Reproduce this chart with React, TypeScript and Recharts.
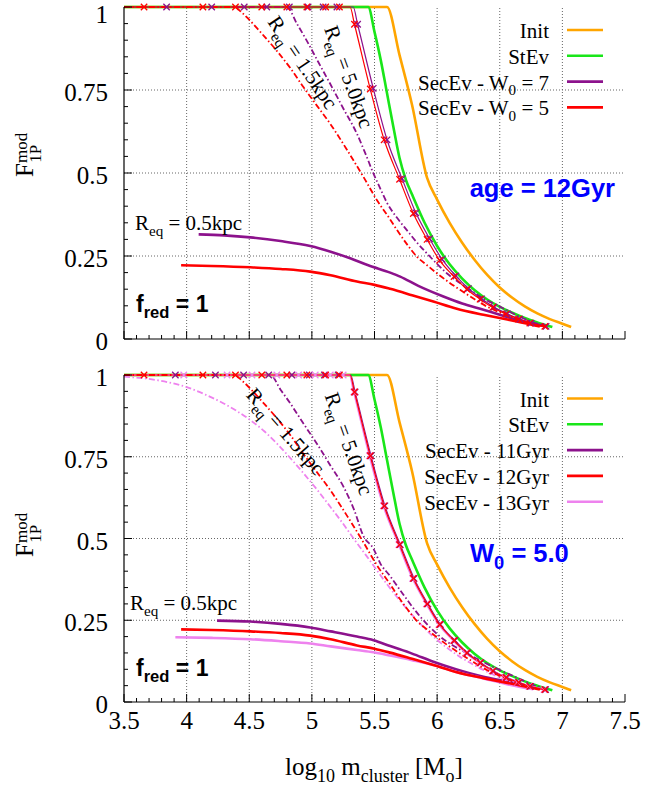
import React from 'react';
import { ComposedChart, Line, XAxis, YAxis, ReferenceLine } from 'recharts';

type Pt = { x: number; y: number };
const pts = (rows: number[][]): Pt[] => rows.map(([x, y]) => ({ x, y }));
const flat = (xs: number[]): Pt[] => xs.map((x) => ({ x, y: 1 }));

// axis ticks
const xMajorTicks = [3.5, 4, 4.5, 5, 5.5, 6, 6.5, 7, 7.5];
const xGrid = [4, 4.5, 5, 5.5, 6, 6.5, 7];
const yGrid = [0.25, 0.5, 0.75];
const xAllTicks = Array.from({ length: 41 }, (_, i) => +(3.5 + i * 0.1).toFixed(1));
const yAllTicks = Array.from({ length: 21 }, (_, i) => +(i * 0.05).toFixed(2));

// initial and stellar-evolution-only curves (same in both panels)
const initCurve = pts([[3.5, 1], [5.6, 1], [5.7, 0.855], [5.8, 0.705], [5.92, 0.485], [6.0, 0.42], [6.1, 0.35], [6.2, 0.29], [6.3, 0.238], [6.4, 0.193], [6.5, 0.155], [6.6, 0.124], [6.7, 0.098], [6.8, 0.077], [6.9, 0.06], [7.0, 0.046], [7.07, 0.036]]);
const stevCurve = pts([[3.5, 1], [5.45, 1], [5.5, 0.925], [5.55, 0.84], [5.6, 0.74], [5.65, 0.64], [5.7, 0.545], [5.75, 0.48], [5.8, 0.435], [5.9, 0.35], [6.0, 0.28], [6.1, 0.225], [6.2, 0.182], [6.3, 0.147], [6.4, 0.119], [6.5, 0.097], [6.6, 0.079], [6.7, 0.063], [6.8, 0.05], [6.92, 0.036]]);

// W0 = 5, 12 Gyr (red, both panels)
const w5Req05 = pts([[3.956, 0.222], [4.2, 0.22], [4.509, 0.216], [4.75, 0.211], [4.987, 0.203], [5.15, 0.192], [5.36, 0.173], [5.5, 0.163], [5.625, 0.151], [5.8, 0.132], [5.97, 0.113], [6.15, 0.092], [6.37, 0.073], [6.5, 0.063], [6.636, 0.053], [6.82, 0.038]]);
const w5Req15 = pts([[3.5, 1], [4.376, 1], [4.45, 0.98], [4.509, 0.958], [4.6, 0.92], [4.72, 0.868], [4.83, 0.815], [4.934, 0.758], [5.04, 0.703], [5.147, 0.648], [5.28, 0.57], [5.412, 0.488], [5.52, 0.418], [5.625, 0.36], [5.68, 0.328], [5.76, 0.285], [5.838, 0.248], [5.92, 0.222], [5.998, 0.198], [6.09, 0.172], [6.183, 0.148], [6.29, 0.122], [6.396, 0.098], [6.5, 0.08], [6.608, 0.063], [6.7, 0.051], [6.768, 0.043], [6.875, 0.038]]);
const w5Req50Flat = [3.66, 4.13, 4.39, 4.6, 4.8, 4.96, 5.11, 5.22];
const w5Req50Knee = 5.305;
const w5Req50Drop = pts([[5.34, 0.948], [5.466, 0.753], [5.577, 0.6], [5.7, 0.481], [5.81, 0.378], [5.92, 0.3], [6.02, 0.237], [6.135, 0.188], [6.237, 0.15], [6.343, 0.12], [6.444, 0.095], [6.55, 0.075], [6.65, 0.06], [6.74, 0.048], [6.86, 0.038]]);

// W0 = 7, 12 Gyr (purple, top panel)
const w7Req05 = pts([[4.096, 0.315], [4.3, 0.312], [4.509, 0.306], [4.75, 0.295], [4.987, 0.28], [5.15, 0.263], [5.306, 0.243], [5.45, 0.222], [5.625, 0.2], [5.705, 0.188], [5.85, 0.16], [6.05, 0.128], [6.2, 0.107], [6.37, 0.088], [6.5, 0.073], [6.636, 0.058], [6.76, 0.047], [6.875, 0.038]]);
const w7Req15 = pts([[3.5, 1], [4.8, 1], [4.88, 0.95], [4.96, 0.898], [5.05, 0.835], [5.147, 0.768], [5.25, 0.695], [5.36, 0.618], [5.43, 0.556], [5.492, 0.498], [5.55, 0.45], [5.6, 0.41], [5.68, 0.365], [5.758, 0.328], [5.84, 0.29], [5.918, 0.258], [6.0, 0.226], [6.077, 0.198], [6.17, 0.172], [6.263, 0.148], [6.38, 0.12], [6.5, 0.098], [6.61, 0.076], [6.715, 0.058], [6.8, 0.046], [6.875, 0.038]]);
const w7Req50Flat = [3.84, 4.2, 4.46, 4.64, 4.82, 4.97, 5.09, 5.2];
const w7Req50Knee = 5.33;
const w7Req50Drop = pts([[5.365, 0.948], [5.49, 0.755], [5.6, 0.6], [5.72, 0.483], [5.83, 0.38], [5.94, 0.302], [6.04, 0.24], [6.15, 0.19], [6.25, 0.152], [6.355, 0.121], [6.455, 0.096], [6.56, 0.076], [6.66, 0.06], [6.75, 0.048], [6.87, 0.038]]);

// W0 = 5, 11 Gyr (purple, bottom panel)
const g11Req05 = pts([[4.243, 0.249], [4.509, 0.246], [4.75, 0.239], [4.987, 0.228], [5.15, 0.216], [5.36, 0.2], [5.492, 0.189], [5.625, 0.171], [5.8, 0.148], [5.97, 0.123], [6.15, 0.1], [6.37, 0.077], [6.5, 0.067], [6.636, 0.057], [6.768, 0.042]]);
const g11Req15 = pts([[3.5, 1], [4.668, 1], [4.75, 0.955], [4.828, 0.913], [4.93, 0.853], [5.04, 0.79], [5.15, 0.722], [5.253, 0.658], [5.34, 0.585], [5.412, 0.507], [5.49, 0.47], [5.546, 0.424], [5.625, 0.385], [5.705, 0.342], [5.865, 0.261], [6.024, 0.2], [6.13, 0.172], [6.237, 0.149], [6.37, 0.122], [6.5, 0.098], [6.64, 0.074], [6.768, 0.052], [6.9, 0.037]]);
const g11Req50Flat = [3.91, 4.23, 4.455, 4.655, 4.84, 4.98, 5.1, 5.21];
const g11Req50Knee = 5.31;
const g11Req50Drop = pts([[5.345, 0.948], [5.472, 0.753], [5.583, 0.6], [5.706, 0.481], [5.816, 0.378], [5.926, 0.3], [6.026, 0.237], [6.141, 0.188], [6.243, 0.15], [6.349, 0.12], [6.45, 0.095], [6.556, 0.075], [6.656, 0.06], [6.746, 0.048], [6.866, 0.038]]);

// W0 = 5, 13 Gyr (violet, bottom panel)
const g13Req05 = pts([[3.91, 0.198], [4.2, 0.196], [4.509, 0.192], [4.75, 0.186], [4.987, 0.179], [5.15, 0.17], [5.36, 0.159], [5.492, 0.152], [5.625, 0.142], [5.8, 0.128], [5.97, 0.113], [6.15, 0.092], [6.37, 0.072], [6.55, 0.055], [6.768, 0.039]]);
const g13Req15 = pts([[3.5, 0.995], [3.75, 0.985], [4.0, 0.963], [4.15, 0.94], [4.296, 0.913], [4.4, 0.89], [4.509, 0.862], [4.62, 0.828], [4.722, 0.79], [4.83, 0.745], [4.934, 0.699], [5.04, 0.65], [5.147, 0.597], [5.24, 0.55], [5.333, 0.5], [5.43, 0.45], [5.519, 0.403], [5.6, 0.36], [5.678, 0.322], [5.76, 0.284], [5.838, 0.25], [5.92, 0.218], [5.998, 0.19], [6.09, 0.163], [6.183, 0.138], [6.29, 0.114], [6.396, 0.093], [6.5, 0.075], [6.608, 0.057], [6.768, 0.039]]);
const g13Req50Flat = [3.977, 4.323, 4.522, 4.72, 4.894, 5.027, 5.147, 5.25];
const g13Req50Knee = 5.3;
const g13Req50Drop = pts([[5.335, 0.948], [5.46, 0.753], [5.571, 0.6], [5.694, 0.481], [5.804, 0.378], [5.914, 0.3], [6.014, 0.237], [6.129, 0.188], [6.231, 0.15], [6.337, 0.12], [6.438, 0.095], [6.544, 0.075], [6.644, 0.06], [6.734, 0.048], [6.854, 0.038]]);

const ORANGE = '#ffa500';
const GREEN = '#19e619';
const PURPLE = '#8c128c';
const RED = '#ff0000';
const VIOLET = '#ee82ee';
const DASHDOT = '6 2.5 1.5 2.5';

const SERIF = '"Liberation Serif", "Times New Roman", serif';
const SANS = '"Liberation Sans", Arial, sans-serif';

type Series = { data: Pt[]; color: string; width: number; dash?: string };
type Marks = { data: Pt[]; color: string };

const withKnee = (knee: number, drop: Pt[]): Pt[] => [{ x: 3.5, y: 1 }, { x: knee, y: 1 }, ...drop];

const topSeries: Series[] = [
  { data: initCurve, color: ORANGE, width: 2.6 },
  { data: stevCurve, color: GREEN, width: 2.6 },
  { data: w7Req05, color: PURPLE, width: 2.6 },
  { data: w7Req15, color: PURPLE, width: 1.8, dash: DASHDOT },
  { data: withKnee(w7Req50Knee, w7Req50Drop), color: PURPLE, width: 1.2 },
  { data: w5Req05, color: RED, width: 2.6 },
  { data: w5Req15, color: RED, width: 1.8, dash: DASHDOT },
  { data: withKnee(w5Req50Knee, w5Req50Drop), color: RED, width: 1.2 },
];
const topMarks: Marks[] = [
  { data: [...flat(w7Req50Flat), ...w7Req50Drop], color: PURPLE },
  { data: [...flat(w5Req50Flat), ...w5Req50Drop], color: RED },
];

const bottomSeries: Series[] = [
  { data: initCurve, color: ORANGE, width: 2.6 },
  { data: stevCurve, color: GREEN, width: 2.6 },
  { data: g11Req05, color: PURPLE, width: 2.6 },
  { data: g11Req15, color: PURPLE, width: 1.8, dash: DASHDOT },
  { data: withKnee(g11Req50Knee, g11Req50Drop), color: PURPLE, width: 1.2 },
  { data: g13Req05, color: VIOLET, width: 2.6 },
  { data: g13Req15, color: VIOLET, width: 1.8, dash: DASHDOT },
  { data: withKnee(g13Req50Knee, g13Req50Drop), color: VIOLET, width: 2 },
  { data: w5Req05, color: RED, width: 2.6 },
  { data: w5Req15, color: RED, width: 1.8, dash: DASHDOT },
  { data: withKnee(w5Req50Knee, w5Req50Drop), color: RED, width: 1.2 },
];
const bottomMarks: Marks[] = [
  { data: [...flat(g11Req50Flat), ...g11Req50Drop], color: PURPLE },
  { data: [...flat(g13Req50Flat), ...g13Req50Drop], color: VIOLET },
  { data: [...flat(w5Req50Flat), ...w5Req50Drop], color: RED },
];

const topLegend = [
  { label: 'Init', color: ORANGE },
  { label: 'StEv', color: GREEN },
  { label: 'SecEv - W_0 = 7', color: PURPLE },
  { label: 'SecEv - W_0 = 5', color: RED },
];
const bottomLegend = [
  { label: 'Init', color: ORANGE },
  { label: 'StEv', color: GREEN },
  { label: 'SecEv - 11Gyr', color: PURPLE },
  { label: 'SecEv - 12Gyr', color: RED },
  { label: 'SecEv - 13Gyr', color: VIOLET },
];

const onStep = (v: number, step: number) => Math.abs(v / step - Math.round(v / step)) < 1e-6;

function BottomTick(props: any) {
  const { x, y, payload, labels } = props;
  const v = payload.value as number;
  const major = onStep(v, 0.5);
  return (
    <g>
      <line x1={x} x2={x} y1={y} y2={y - (major ? 8 : 4)} stroke="#000" strokeWidth={1} />
      {labels && major && (
        <text x={x} y={y + 27} textAnchor="middle" fontSize={25} fontFamily={SERIF} fill="#000">
          {String(v)}
        </text>
      )}
    </g>
  );
}

function TopTick(props: any) {
  const { x, y } = props;
  return <line x1={x} x2={x} y1={y} y2={y + 8} stroke="#000" strokeWidth={1} />;
}

// left ticks; labels are kept from running off the top of the canvas
function LeftTick(props: any) {
  const { x, y, payload, minBaseline = 0 } = props;
  const v = payload.value as number;
  const major = onStep(v, 0.25);
  return (
    <g>
      <line x1={x} x2={x + (major ? 8 : 4)} y1={y} y2={y} stroke="#000" strokeWidth={1} />
      {major && (
        <text x={x - 16} y={Math.max(y + 11, minBaseline)} textAnchor="end" fontSize={25} fontFamily={SERIF} fill="#000">
          {String(v)}
        </text>
      )}
    </g>
  );
}

function RightTick(props: any) {
  const { x, y, payload } = props;
  const major = onStep(payload.value as number, 0.25);
  return <line x1={x} x2={x - (major ? 8 : 4)} y1={y} y2={y} stroke="#000" strokeWidth={1} />;
}

function CrossMark(props: any) {
  const { cx, cy, color } = props;
  if (cx == null || cy == null) return null;
  const r = 3.2;
  return (
    <path
      d={`M${cx - r},${cy - r}L${cx + r},${cy + r}M${cx - r},${cy + r}L${cx + r},${cy - r}`}
      stroke={color}
      strokeWidth={1.3}
      fill="none"
    />
  );
}

function Panel({ height, top, xAxisHeight, labels, minBaseline, series, marks }: {
  height: number; top: number; xAxisHeight: number; labels: boolean; minBaseline: number; series: Series[]; marks: Marks[];
}) {
  return (
    <ComposedChart width={647} height={height} margin={{ top, right: 22, bottom: 0, left: 0 }}>
      <XAxis
        dataKey="x"
        type="number"
        domain={[3.5, 7.5]}
        ticks={xAllTicks}
        interval={0}
        height={xAxisHeight}
        tickSize={0}
        tickMargin={0}
        tickLine={false}
        axisLine={{ stroke: '#000', strokeWidth: 1.2 }}
        tick={<BottomTick labels={labels} />}
      />
      <XAxis
        xAxisId="top"
        orientation="top"
        dataKey="x"
        type="number"
        domain={[3.5, 7.5]}
        ticks={xMajorTicks}
        interval={0}
        height={0}
        tickSize={0}
        tickMargin={0}
        tickLine={false}
        axisLine={{ stroke: '#000', strokeWidth: 1.2 }}
        tick={<TopTick />}
      />
      <YAxis
        type="number"
        domain={[0, 1]}
        ticks={yAllTicks}
        interval={0}
        width={124}
        tickSize={0}
        tickMargin={0}
        tickLine={false}
        axisLine={{ stroke: '#000', strokeWidth: 1.2 }}
        tick={<LeftTick minBaseline={minBaseline} />}
      />
      <YAxis
        yAxisId="right"
        orientation="right"
        type="number"
        domain={[0, 1]}
        ticks={yAllTicks}
        interval={0}
        width={0}
        tickSize={0}
        tickMargin={0}
        tickLine={false}
        axisLine={{ stroke: '#000', strokeWidth: 1.2 }}
        tick={<RightTick />}
      />
      {xGrid.map((v) => (
        <ReferenceLine key={`gx${v}`} x={v} stroke="#666" strokeWidth={1} strokeDasharray="1 2" />
      ))}
      {yGrid.map((v) => (
        <ReferenceLine key={`gy${v}`} y={v} stroke="#666" strokeWidth={1} strokeDasharray="1 2" />
      ))}
      {series.map((s, i) => (
        <Line
          key={`s${i}`}
          data={s.data}
          dataKey="y"
          type="monotone"
          stroke={s.color}
          strokeWidth={s.width}
          strokeDasharray={s.dash}
          dot={false}
          activeDot={false}
          isAnimationActive={false}
        />
      ))}
      {marks.map((m, i) => (
        <Line
          key={`m${i}`}
          data={m.data}
          dataKey="y"
          stroke="none"
          dot={<CrossMark color={m.color} />}
          activeDot={false}
          isAnimationActive={false}
        />
      ))}
    </ComposedChart>
  );
}

// text with "_x" or "_{xy}" subscripts as svg tspans
function sub(text: string, size: number) {
  const out: React.ReactNode[] = [];
  const re = /_\{([^}]*)\}|_(\S)/g;
  const drop = size * 0.28;
  let last = 0;
  let lowered = false;
  let m: RegExpExecArray | null;
  let k = 0;
  while ((m = re.exec(text))) {
    if (m.index > last) {
      out.push(<tspan key={k++} dy={lowered ? -drop : 0}>{text.slice(last, m.index)}</tspan>);
      lowered = false;
    }
    out.push(<tspan key={k++} dy={lowered ? 0 : drop} fontSize={size * 0.72}>{m[1] ?? m[2]}</tspan>);
    lowered = true;
    last = re.lastIndex;
  }
  if (last < text.length) out.push(<tspan key={k++} dy={lowered ? -drop : 0}>{text.slice(last)}</tspan>);
  return out;
}

function LegendRows({ items, y0, step }: { items: { label: string; color: string }[]; y0: number; step: number }) {
  return (
    <g>
      {items.map((it, i) => {
        const y = y0 + i * step;
        return (
          <g key={it.label}>
            <text x={549} y={y + 8} textAnchor="end" fontSize={21} fontFamily={SERIF} style={{ whiteSpace: 'pre' }}>
              {sub(it.label, 21)}
            </text>
            <line x1={567} x2={603} y1={y} y2={y} stroke={it.color} strokeWidth={2.6} />
          </g>
        );
      })}
    </g>
  );
}

function Rotated({ cx, cy, angle, text }: { cx: number; cy: number; angle: number; text: string }) {
  return (
    <text
      transform={`translate(${cx},${cy}) rotate(${angle})`}
      textAnchor="middle"
      y={6}
      fontSize={21}
      fontFamily={SERIF}
      style={{ whiteSpace: 'pre' }}
    >
      {sub(text, 21)}
    </text>
  );
}

function YTitle({ x, y }: { x: number; y: number }) {
  return (
    <text transform={`translate(${x},${y}) rotate(-90)`} fontSize={25} fontFamily={SERIF}>
      F
      <tspan dy={-6} fontSize={17}>mod</tspan>
      <tspan dx={-30} dy={14} fontSize={17}>1P</tspan>
    </text>
  );
}

export default function App() {
  return (
    <div style={{ position: 'absolute', left: 0, top: 0, width: 647, height: 788, background: '#fff' }}>
      <style>{'.recharts-surface{overflow:visible}'}</style>
      <div style={{ position: 'absolute', left: 0, top: 0 }}>
        <Panel height={350} top={7} xAxisHeight={11} labels={false} minBaseline={23} series={topSeries} marks={topMarks} />
      </div>
      <div style={{ position: 'absolute', left: 0, top: 368 }}>
        <Panel height={420} top={7} xAxisHeight={86} labels minBaseline={0} series={bottomSeries} marks={bottomMarks} />
      </div>
      <svg width={647} height={788} style={{ position: 'absolute', left: 0, top: 0, pointerEvents: 'none' }}>
        <LegendRows items={topLegend} y0={30} step={25.8} />
        <LegendRows items={bottomLegend} y0={398.5} step={25.8} />

        <Rotated cx={302} cy={63} angle={56} text="R_{eq} = 1.5kpc" />
        <Rotated cx={348} cy={77} angle={70} text="R_{eq} = 5.0kpc" />
        <Rotated cx={285} cy={432} angle={49} text="R_{eq} = 1.5kpc" />
        <Rotated cx={348} cy={444} angle={70.5} text="R_{eq} = 5.0kpc" />

        <text x={135} y={230} fontSize={21} fontFamily={SERIF} style={{ whiteSpace: 'pre' }}>
          {sub('R_{eq} = 0.5kpc', 21)}
        </text>
        <text x={130} y={610} fontSize={21} fontFamily={SERIF} style={{ whiteSpace: 'pre' }}>
          {sub('R_{eq} = 0.5kpc', 21)}
        </text>

        <text x={136} y={312} fontSize={23} fontWeight="bold" fontFamily={SANS} style={{ whiteSpace: 'pre' }}>
          {sub('f_{red} = 1', 23)}
        </text>
        <text x={136} y={676} fontSize={23} fontWeight="bold" fontFamily={SANS} style={{ whiteSpace: 'pre' }}>
          {sub('f_{red} = 1', 23)}
        </text>

        <text x={615} y={197} textAnchor="end" fontSize={25.5} fontWeight="bold" fontFamily={SANS} fill="#0000ff">
          age = 12Gyr
        </text>
        <text x={470} y={562} fontSize={25.5} fontWeight="bold" fontFamily={SANS} fill="#0000ff" style={{ whiteSpace: 'pre' }}>
          {sub('W_0 = 5.0', 25.5)}
        </text>

        <YTitle x={33} y={177} />
        <YTitle x={33} y={557} />

        <text x={374} y={775} textAnchor="middle" fontSize={25} fontFamily={SERIF} style={{ whiteSpace: 'pre' }}>
          {sub('log_{10} m_{cluster} [M_o]', 25)}
        </text>
      </svg>
    </div>
  );
}
